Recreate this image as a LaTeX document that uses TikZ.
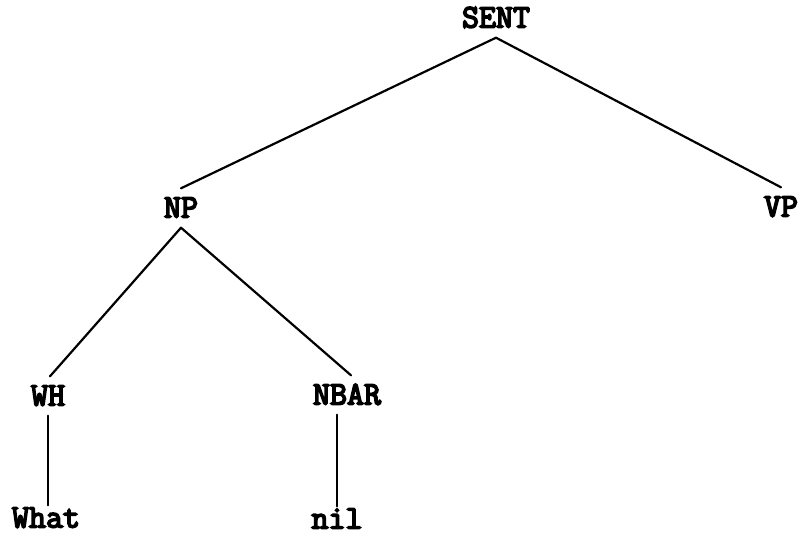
\documentclass[tikz,border=0pt]{standalone}
\usepackage{fontspec}
\newfontfamily\treefont{Latin Modern Mono}[FakeBold=5]
\begin{document}
\begin{tikzpicture}[x=1pt,y=-1pt,
  cat/.style={font=\treefont\fontsize{33}{33}\selectfont,
              text height=19pt, text depth=0pt, inner xsep=2pt, inner ysep=10pt},
  word/.style={cat, inner ysep=3pt},
  branch/.style={line width=2.2pt, line cap=round}]
  \useasboundingbox (0,0) rectangle (802,535);

  % phrase labels
  \node[cat] (sent) at (496,18)  {SENT};
  \node[cat] (np)   at (181,208) {NP};
  \node[cat] (vp)   at (781,207) {VP};
  \node[cat] (wh)   at (48,396)  {WH};
  \node[cat] (nbar) at (347,395) {NBAR};
  % words
  \node[word] (what) at (46,518)  {What};
  \node[word] (nil)  at (337,519) {nil};

  % branches
  \draw[branch] (sent.south) -- (np.north);
  \draw[branch] (sent.south) -- (vp.north);
  \draw[branch] (np.south) -- ([xshift=2pt]wh.north);
  \draw[branch] (np.south) -- ([xshift=4pt]nbar.north);
  \draw[branch] (wh.south) -- (wh.south |- what.north);
  \draw[branch] (nbar.south -| nil.north) -- (nil.north);
\end{tikzpicture}
\end{document}
